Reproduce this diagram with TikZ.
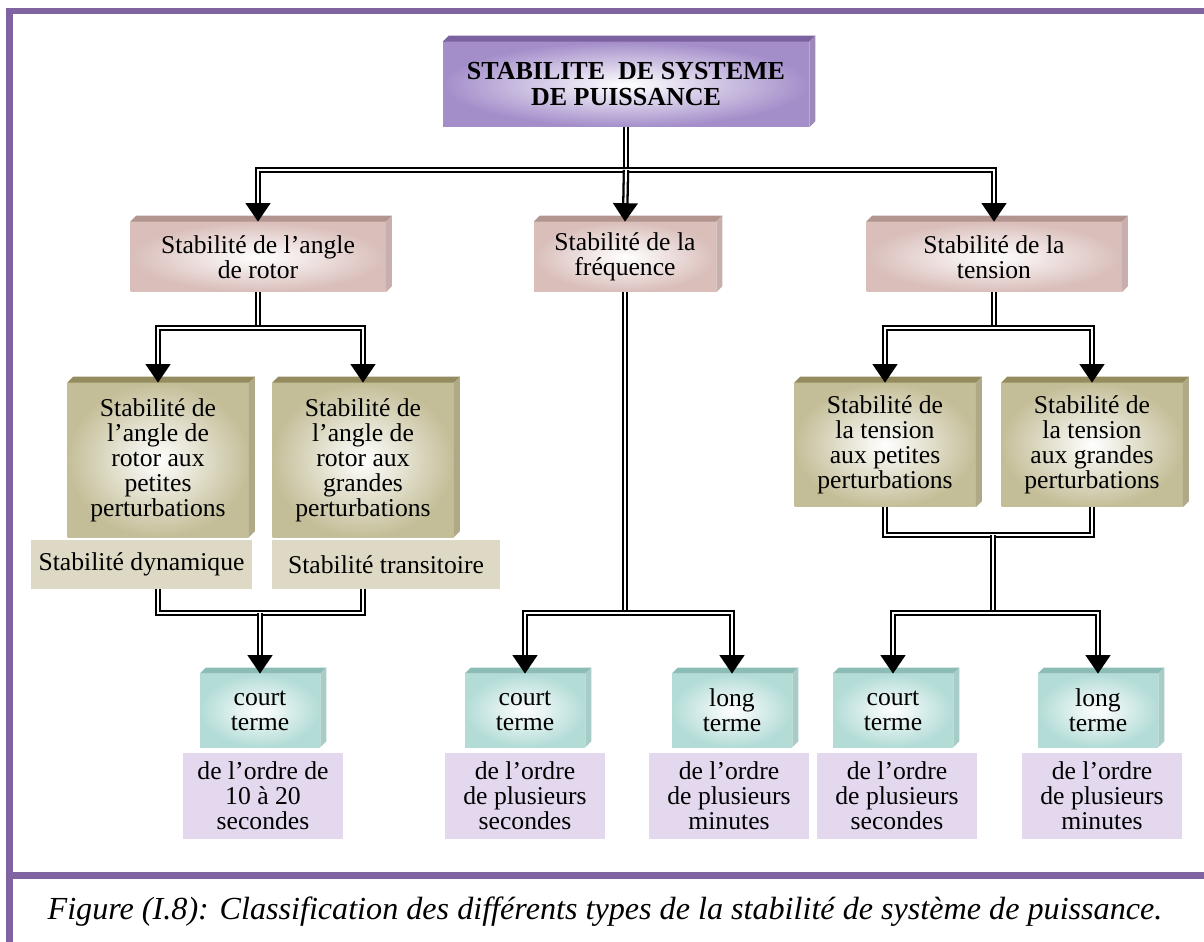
\documentclass[tikz,border=0pt]{standalone}
\usepackage{fontspec}
\setmainfont{Liberation Serif}
\usetikzlibrary{arrows.meta}
\definecolor{framecol}{HTML}{8064A2}
\definecolor{topcol}{HTML}{A48ECA}
\definecolor{topdark}{HTML}{7C62A0}
\definecolor{pinkcol}{HTML}{D9BEBA}
\definecolor{pinkdark}{HTML}{B39590}
\definecolor{olivecol}{HTML}{C4BE98}
\definecolor{olivedark}{HTML}{948C5F}
\definecolor{beigecol}{HTML}{DDD9C4}
\definecolor{tealcol}{HTML}{B3DCD7}
\definecolor{tealdark}{HTML}{8BBCB6}
\definecolor{lavcol}{HTML}{E3D8EE}
\tikzset{
 bx/.style={inner sep=0pt, align=center, font=\fontsize{14.6}{14.2}\selectfont},
 topbox/.style={bx, inner color=white, outer color=topcol, minimum width=366*0.02cm, minimum height=85*0.02cm, font=\fontsize{14.8}{14.8}\selectfont\bfseries},
 pinkbox/.style={bx, inner color=white, outer color=pinkcol, minimum height=70*0.02cm},
 olivebox/.style={bx, inner color=white, outer color=olivecol, minimum width=181*0.02cm},
 labelbox/.style={bx, fill=beigecol, minimum height=49*0.02cm},
 tealbox/.style={bx, inner color=white, outer color=tealcol, minimum width=120*0.02cm, minimum height=73*0.02cm},
 lavbox/.style={bx, fill=lavcol, minimum width=160*0.02cm, minimum height=86*0.02cm},
 dbl/.style={draw=black, double=white, double distance=1.1pt, line width=1.3pt},
 arr/.style={-{Triangle[width=14pt,length=10.5pt]}}
}
\begin{document}
\begin{tikzpicture}[x=0.02cm,y=-0.02cm]
 \useasboundingbox (0,0) rectangle (1204,942);
 % frame
 \fill[framecol] (6,8) rectangle (1204,14);
 \fill[framecol] (6,8) rectangle (12.5,942);
 \fill[framecol] (6,872) rectangle (1204,879);
 %
 \node[topbox] (top) at (626,84.5) {STABILITE \ DE SYSTEME\\DE PUISSANCE};
 %
 \node[pinkbox, minimum width=255*0.02cm] (rotor) at (258,257) {Stabilit\'e de l'angle\\de rotor};
 \node[pinkbox, minimum width=182*0.02cm] (freq) at (625,257) {Stabilit\'e de la\\fr\'equence};
 \node[pinkbox, minimum width=255*0.02cm] (tension) at (994,257) {Stabilit\'e de la\\tension};
 %
 \node[olivebox, minimum height=154*0.02cm] (angA) at (158,460) {Stabilit\'e de\\l'angle de\\rotor aux\\petites\\perturbations};
 \node[olivebox, minimum height=154*0.02cm] (angB) at (363,460) {Stabilit\'e de\\l'angle de\\rotor aux\\grandes\\perturbations};
 \node[labelbox, minimum width=221*0.02cm] (dyn) at (141.5,564.5) {Stabilit\'e dynamique};
 \node[labelbox, minimum width=228*0.02cm] (trans) at (386,564.5) {Stabilit\'e transitoire};
 \node[olivebox, minimum height=124*0.02cm] (volA) at (885,445) {Stabilit\'e de\\la tension\\aux petites\\perturbations};
 \node[olivebox, minimum height=124*0.02cm] (volB) at (1092,445) {Stabilit\'e de\\la tension\\aux grandes\\perturbations};
 %
 \node[tealbox] (ct1) at (260,710.5) {court\\terme};
 \node[tealbox] (ct2) at (525,710.5) {court\\terme};
 \node[tealbox] (lt2) at (732,710.5) {long\\terme};
 \node[tealbox] (ct3) at (893,710.5) {court\\terme};
 \node[tealbox] (lt3) at (1098,710.5) {long\\terme};
 %
 \node[lavbox] (dur1) at (263,796) {de l'ordre de\\10 \`a 20\\secondes};
 \node[lavbox] (dur2) at (525,796) {de l'ordre\\de plusieurs\\secondes};
 \node[lavbox] (dur3) at (729,796) {de l'ordre\\de plusieurs\\minutes};
 \node[lavbox] (dur4) at (897,796) {de l'ordre\\de plusieurs\\secondes};
 \node[lavbox] (dur5) at (1102,796) {de l'ordre\\de plusieurs\\minutes};
 %
 % relief of the boxes
 \foreach \n/\c in {top/topdark, rotor/pinkdark, freq/pinkdark, tension/pinkdark,
   angA/olivedark, angB/olivedark, volA/olivedark, volB/olivedark,
   ct1/tealdark, ct2/tealdark, lt2/tealdark, ct3/tealdark, lt3/tealdark}{
  \fill[\c] (\n.north west) -- ++(6,-6) -- ([shift={(6,-6)}]\n.north east) -- (\n.north east) -- cycle;
  \fill[\c!75!white] (\n.north east) -- ++(6,-6) -- ([shift={(6,-6)}]\n.south east) -- (\n.south east) -- cycle;
 }
 %
 \coordinate (j1) at (626,170);
 \coordinate (j2) at (258,328);
 \coordinate (j3) at (260,613);
 \coordinate (j4) at (625,613);
 \coordinate (j5) at (994,328);
 \coordinate (j6) at (993,535);
 \coordinate (j7) at (993,613);
 %
 \draw[dbl] (top) -- (j1);
 \draw[dbl,arr] (j1) -| (rotor.north);
 \draw[dbl,arr] (j1) -| (tension.north);
 \draw[dbl,arr] (j1) -- (freq.north);
 %
 \draw[dbl] (rotor) -- (j2);
 \draw[dbl,arr] (j2) -| (angA.north);
 \draw[dbl,arr] (j2) -| (angB.north);
 \draw[dbl] (angA |- dyn.south) |- (j3) -| (angB |- trans.south);
 \draw[dbl,arr] (j3) -- (ct1.north);
 %
 \draw[dbl] (freq) -- (j4);
 \draw[dbl,arr] (j4) -| (ct2.north);
 \draw[dbl,arr] (j4) -| (lt2.north);
 %
 \draw[dbl] (tension) -- (j5);
 \draw[dbl,arr] (j5) -| (volA.north);
 \draw[dbl,arr] (j5) -| (volB.north);
 \draw[dbl] (volA) |- (j6) -| (volB);
 \draw[dbl] (j6) -- (j7);
 \draw[dbl,arr] (j7) -| (ct3.north);
 \draw[dbl,arr] (j7) -| (lt3.north);
 %
 \node[font=\fontsize{18.3}{20}\selectfont\itshape] (caption) at (605,912)
  {Figure (I.8): Classification des diff\'erents types de la stabilit\'e de syst\`eme de puissance.};
\end{tikzpicture}
\end{document}
